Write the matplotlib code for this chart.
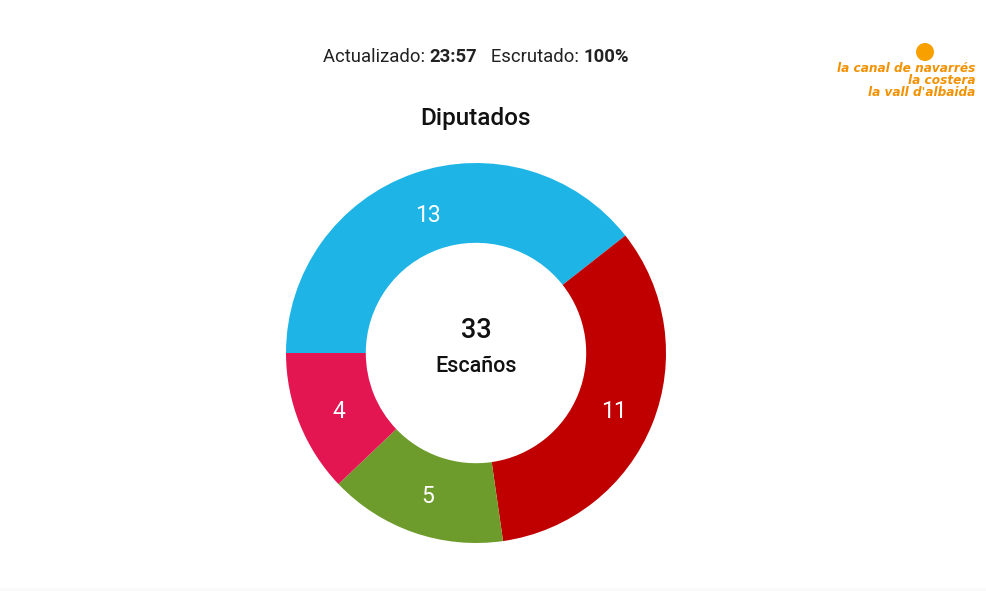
import matplotlib
matplotlib.use("Agg")
import matplotlib.pyplot as plt
from matplotlib.patches import Circle, Rectangle

parties_values = [13, 11, 5, 4]
parties_colors = ["#1EB4E6", "#C00000", "#6E9C2C", "#E31652"]
total_seats = 33
title = "Diputados"
center_label = "Escaños"
header_parts = [("Actualizado: ", "normal"), ("23:57", "bold"), ("   Escrutado: ", "normal"), ("100%", "bold")]
logo_lines = ["la canal de navarrés", "la costera", "la vall d'albaida"]

W, H = 986, 591
fig = plt.figure(figsize=(W / 100, H / 100), dpi=100)
fig.patch.set_facecolor("white")
ax = fig.add_axes([0, 0, 1, 1])

cx, cy, R = 476, H - 353, 190
wedges, texts, autotexts = ax.pie(
    parties_values, colors=parties_colors, startangle=180, counterclock=False,
    center=(cx, cy), radius=R, wedgeprops=dict(width=R * 0.42, linewidth=0),
    autopct=lambda p: f"{round(p * sum(parties_values) / 100):d}", pctdistance=0.78,
    textprops=dict(color="white", fontsize=16.5, family="Roboto"))
for t in autotexts:
    x, y = t.get_position()
    t.set_position((x, y - 3))
ax.set_xlim(0, W)
ax.set_ylim(0, H)
ax.set_aspect("auto")
ax.axis("off")

ax.text(cx, H - 330, str(total_seats), ha="center", va="center", fontsize=19.5,
        family="Roboto", weight="medium", color="#111111")
ax.text(cx, H - 366, center_label, ha="center", va="center", fontsize=15.5,
        family="Roboto", weight="medium", color="#111111")
ax.text(cx, H - 118, title, ha="center", va="center", fontsize=17.5,
        family="Roboto", weight="medium", color="#111111")

# header line with mixed weights
fig.canvas.draw()
r = fig.canvas.get_renderer()
pieces = []
for s, w in header_parts:
    t = ax.text(0, H - 57, s, ha="left", va="center", fontsize=13.3, family="Roboto",
                weight=w, color="#222222")
    pieces.append(t)
fig.canvas.draw()
widths = [t.get_window_extent(r).width for t in pieces]
tot = sum(widths)
x0 = (323 + 629) / 2 - tot / 2
for t, wd in zip(pieces, widths):
    t.set_x(x0)
    x0 += wd

# logo
ax.add_patch(Circle((925, H - 52), 9, color="#F7A000", lw=0))
ax.text(975, H - 80.5, "\n".join(logo_lines), ha="right", va="center", multialignment="right",
        fontsize=8.7, style="italic", weight="bold", family="DejaVu Sans", color="#F39200",
        linespacing=0.9)

ax.add_patch(Rectangle((0, 0), W, 3, color="#FAFAFA", lw=0))

fig.savefig("out.png", dpi=100, facecolor="white")
